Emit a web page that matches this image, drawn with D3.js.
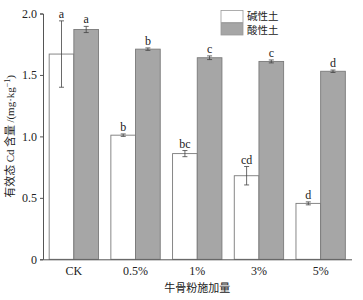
<!DOCTYPE html>
<html>
<head>
<meta charset="utf-8">
<script src="https://cdn.jsdelivr.net/npm/d3@7"></script>
<style>
  body { margin: 0; background: #fff; }
  svg text { font-family: "Liberation Serif", "Times New Roman", serif; fill: #222; }
  .cjk { font-family: "Noto Sans CJK SC", sans-serif; }
</style>
</head>
<body>
<div id="chart"></div>
<script>
// data
const doses = ["CK", "0.5%", "1%", "3%", "5%"];
const soils = ["碱性土", "酸性土"];
const alkaline = [1.67, 1.01, 0.86, 0.68, 0.455];
const alkalineErr = [0.27, 0.01, 0.025, 0.075, 0.012];
const alkalineLetters = ["a", "b", "bc", "cd", "d"];
const acidic = [1.87, 1.71, 1.64, 1.61, 1.53];
const acidicErr = [0.025, 0.01, 0.015, 0.012, 0.01];
const acidicLetters = ["a", "b", "c", "c", "d"];
const yTicks = [0, 0.5, 1.0, 1.5, 2.0];

const W = 363, H = 300;
const margin = { top: 13.5, right: 11.5, bottom: 40.7, left: 43 };
const width = W - margin.left - margin.right;
const height = H - margin.top - margin.bottom;

const svg = d3.select("#chart").append("svg")
    .attr("width", W).attr("height", H)
    .append("g")
    .attr("transform", `translate(${margin.left},${margin.top})`);

const x = d3.scaleBand().domain(doses).range([0, width]).paddingInner(0.2).paddingOuter(0.1);
const x1 = d3.scaleBand().domain(soils).range([0, x.bandwidth()]);
const y = d3.scaleLinear().domain([0, 2.0]).range([height, 0]);
const fills = { "碱性土": "#ffffff", "酸性土": "#a6a6a6" };

// combine into rows
const rows = [];
doses.forEach((d, i) => {
    rows.push({ dose: d, soil: soils[0], v: alkaline[i], e: alkalineErr[i], l: alkalineLetters[i] });
    rows.push({ dose: d, soil: soils[1], v: acidic[i], e: acidicErr[i], l: acidicLetters[i] });
});

// bars
svg.selectAll(".bar")
    .data(rows)
    .enter()
    .append("rect")
    .attr("x", d => x(d.dose) + x1(d.soil))
    .attr("y", d => y(d.v))
    .attr("width", x1.bandwidth())
    .attr("height", d => height - y(d.v))
    .style("fill", d => fills[d.soil])
    .style("stroke", "#7a7a7a")
    .style("stroke-width", 0.9);

// error bars
const cx = d => x(d.dose) + x1(d.soil) + x1.bandwidth() / 2;
const err = svg.selectAll(".err").data(rows).enter().append("g").style("stroke", "#444").style("stroke-width", 0.8);
err.append("line").attr("x1", cx).attr("x2", cx).attr("y1", d => y(d.v + d.e)).attr("y2", d => y(d.v - d.e));
err.append("line").attr("x1", d => cx(d) - 2.5).attr("x2", d => cx(d) + 2.5).attr("y1", d => y(d.v + d.e)).attr("y2", d => y(d.v + d.e));
err.append("line").attr("x1", d => cx(d) - 2.5).attr("x2", d => cx(d) + 2.5).attr("y1", d => y(d.v - d.e)).attr("y2", d => y(d.v - d.e));

// significance letters
svg.selectAll(".lbl")
    .data(rows)
    .enter()
    .append("text")
    .attr("x", cx)
    .attr("y", d => y(d.v + d.e) - 3)
    .attr("text-anchor", "middle")
    .style("font-size", "12px")
    .text(d => d.l);

// axes
const yAxis = svg.append("g")
    .call(d3.axisLeft(y).tickValues(yTicks).tickSize(3).tickPadding(3)
        .tickFormat(d => d === 0 ? "0" : d3.format(".1f")(d)));
yAxis.selectAll("text").style("font-size", "12px");
yAxis.selectAll("line, path").style("stroke", "#555");

const xAxis = svg.append("g")
    .attr("transform", `translate(0,${height})`)
    .call(d3.axisBottom(x).tickSize(0).tickPadding(7));
xAxis.selectAll("text").style("font-size", "12px");
xAxis.selectAll("path").style("stroke", "#555");

// axis labels
svg.append("text")
    .attr("class", "cjk")
    .attr("transform", `translate(${-29},${height / 2}) rotate(-90)`)
    .attr("text-anchor", "middle")
    .style("font-size", "11px")
    .html('有效态 <tspan style="font-family:Liberation Serif">Cd</tspan> 含量 <tspan style="font-family:Liberation Serif">/(mg·kg<tspan dy="-4" font-size="8px">−1</tspan><tspan dy="4">)</tspan></tspan>');

svg.append("text")
    .attr("class", "cjk")
    .attr("x", width / 2)
    .attr("y", height + 33)
    .attr("text-anchor", "middle")
    .style("font-size", "11px")
    .text("牛骨粉施加量");

// legend
const legend = svg.selectAll(".legend")
    .data(soils)
    .enter()
    .append("g")
    .attr("transform", (d, i) => `translate(${178},${-3 + i * 12.5})`);

legend.append("rect")
    .attr("width", 22).attr("height", 12)
    .style("fill", d => fills[d])
    .style("stroke", "#999").style("stroke-width", 0.8);

legend.append("text")
    .attr("class", "cjk")
    .attr("x", 26).attr("y", (d, i) => 9 + i * 2)
    .style("font-size", "10.5px")
    .text(d => d);
</script>
</body>
</html>
